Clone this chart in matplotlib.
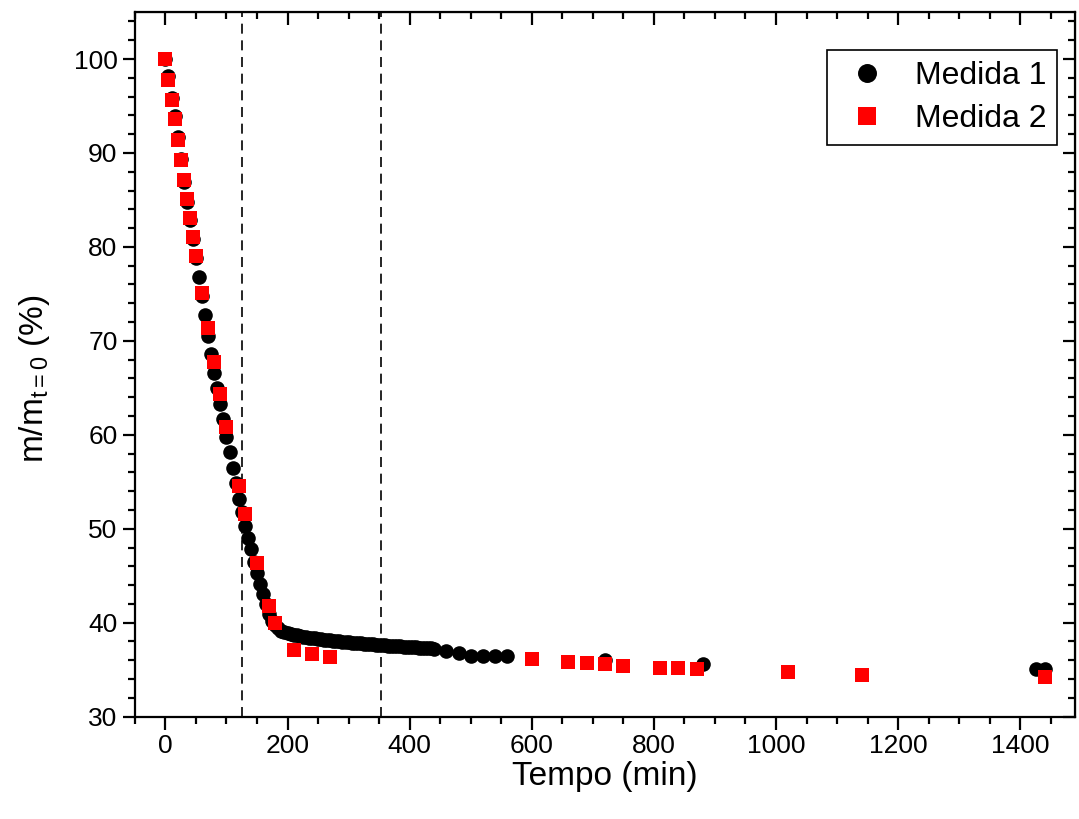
import matplotlib.pyplot as plt
from matplotlib.ticker import MultipleLocator

plt.rcParams['font.family'] = ['Liberation Sans', 'DejaVu Sans']
plt.rcParams['mathtext.fontset'] = 'custom'
plt.rcParams['mathtext.rm'] = 'Liberation Sans'
plt.rcParams['mathtext.it'] = 'Liberation Sans'

# Medida 1 (black circles)
t1 = [0, 5, 10, 15, 20, 25, 30, 35, 40, 45, 50, 55, 60, 65, 70, 75, 80, 85, 90, 95,
      100, 105, 110, 115, 120, 125, 130, 135, 140, 145, 150, 155, 160, 165, 170, 175,
      180, 185, 190, 195, 200, 205, 210, 215, 220, 225, 230, 235, 240, 245, 250, 255,
      260, 265, 270, 275, 280, 285, 290, 295, 300, 305, 310, 315, 320, 325, 330, 335,
      340, 345, 350, 355, 360, 365, 370, 375, 380, 385, 390, 395, 400, 405, 410, 415,
      420, 425, 430, 435, 440, 460, 480, 500, 520, 540, 560, 720, 880, 1425, 1440]
m1 = [100.0, 98.2, 95.9, 93.9, 91.7, 89.4, 86.9, 84.8, 82.9, 80.8, 78.8, 76.8, 74.8, 72.7,
      70.5, 68.6, 66.6, 65.0, 63.3, 61.7, 59.8, 58.2, 56.5, 54.9, 53.2, 51.8, 50.3, 49.0,
      47.8, 46.5, 45.3, 44.1, 43.0, 42.0, 40.9, 40.2, 39.7, 39.4, 39.15, 39.0, 38.9, 38.8,
      38.72, 38.65, 38.58, 38.52, 38.47, 38.42, 38.37, 38.32, 38.27, 38.23, 38.19, 38.15,
      38.11, 38.07, 38.04, 38.0, 37.97, 37.94, 37.91, 37.88, 37.85, 37.82, 37.8, 37.77,
      37.74, 37.72, 37.69, 37.67, 37.64, 37.62, 37.6, 37.57, 37.55, 37.53, 37.5, 37.48,
      37.46, 37.44, 37.42, 37.4, 37.37, 37.35, 37.33, 37.31, 37.29, 37.27, 37.25,
      37.0, 36.8, 36.5, 36.45, 36.45, 36.45, 36.0, 35.6, 35.05, 35.05]

# Medida 2 (red squares)
t2 = [0, 5, 10, 15, 20, 25, 30, 35, 40, 45, 50, 60, 70, 80, 90, 100, 120, 130, 150, 170,
      180, 210, 240, 270, 600, 660, 690, 720, 750, 810, 840, 870, 1020, 1140, 1440]
m2 = [100.0, 97.8, 95.6, 93.6, 91.4, 89.3, 87.1, 85.1, 83.1, 81.1, 79.0, 75.1, 71.4, 67.8,
      64.3, 60.8, 54.5, 51.6, 46.3, 41.8, 40.0, 37.1, 36.7, 36.3, 36.1, 35.8, 35.7, 35.6,
      35.4, 35.2, 35.15, 35.1, 34.7, 34.45, 34.2]

# vertical reference lines
t_marks = [126, 353]

fig = plt.figure(figsize=(10.79, 8.19), dpi=100)
ax = fig.add_axes([0.125, 0.125, 0.8715, 0.8603])

ax.plot(t1, m1, 'o', color='black', markersize=10.5, markeredgewidth=0, label='Medida 1', zorder=3)
ax.plot(t2, m2, 's', color='red', markersize=9.6, markeredgewidth=0, label='Medida 2', zorder=4)

for t in t_marks:
    ax.axvline(t, color='black', linestyle=(0, (6, 4)), linewidth=1.2, zorder=2)

ax.set_xlim(-50, 1490)
ax.set_ylim(30, 105)
ax.xaxis.set_major_locator(MultipleLocator(200))
ax.xaxis.set_minor_locator(MultipleLocator(50))
ax.yaxis.set_major_locator(MultipleLocator(10))
ax.yaxis.set_minor_locator(MultipleLocator(2))
ax.set_yticks(range(30, 101, 10))

for s in ax.spines.values():
    s.set_linewidth(1.6)
ax.tick_params(which='both', direction='out', width=1.6, labelsize=19)
ax.tick_params(which='major', length=9)
ax.tick_params(which='minor', length=5)

# mirrored ticks on top/right point inward
secx = ax.secondary_xaxis('top')
secx.xaxis.set_major_locator(MultipleLocator(200))
secx.xaxis.set_minor_locator(MultipleLocator(50))
secx.tick_params(which='both', direction='in', width=1.6, labeltop=False)
secx.tick_params(which='major', length=9)
secx.tick_params(which='minor', length=5)
secy = ax.secondary_yaxis('right')
secy.yaxis.set_major_locator(MultipleLocator(10))
secy.yaxis.set_minor_locator(MultipleLocator(2))
secy.tick_params(which='both', direction='in', width=1.6, labelright=False)
secy.tick_params(which='major', length=9)
secy.tick_params(which='minor', length=5)

ax.set_xlabel('Tempo (min)', fontsize=24, labelpad=2)
ax.set_ylabel(r'm/m$_{\mathrm{t=0}}$ (%)', fontsize=24)
ax.yaxis.set_label_coords(-0.088, 0.48)

leg = ax.legend(loc='upper right', bbox_to_anchor=(0.981, 0.946), borderaxespad=0,
                fontsize=23, fancybox=False, edgecolor='black', framealpha=1,
                markerscale=1.3, handletextpad=0.6, borderpad=0.35, labelspacing=0.4,
                handlelength=1.8)
leg.get_frame().set_linewidth(1.2)

fig.savefig('out.png', dpi=100)
